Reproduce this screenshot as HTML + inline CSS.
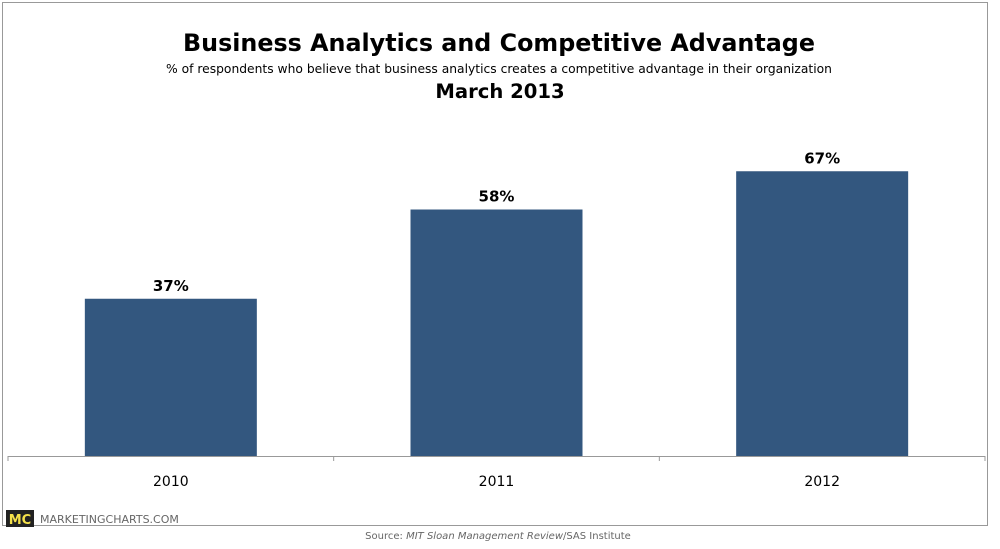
<!DOCTYPE html>
<html><head><meta charset="utf-8"><style>
body{margin:0;background:#fff;width:1000px;height:545px;overflow:hidden;font-family:"DejaVu Sans","Liberation Sans",sans-serif;}
</style></head><body>
<svg width="1000" height="545">
<rect x="2.5" y="2.5" width="985" height="523" fill="#fff" stroke="#999"/>
<text x="499" y="51" text-anchor="middle" font-size="23.8" font-weight="bold">Business Analytics and Competitive Advantage</text>
<text x="499" y="73" text-anchor="middle" font-size="12.3">% of respondents who believe that business analytics creates a competitive advantage in their organization</text>
<text x="500" y="98" text-anchor="middle" font-size="19.6" font-weight="bold">March 2013</text>
<g id="plot"></g>
<rect x="6" y="510" width="28" height="17" fill="#222"/>
<text x="20" y="524" text-anchor="middle" font-size="13" font-weight="bold" fill="#f5e14a">MC</text>
<text x="40" y="523" font-size="11" fill="#666">MARKETINGCHARTS.COM</text>
<text x="498" y="539" text-anchor="middle" font-size="10" fill="#666">Source: <tspan font-style="italic">MIT Sloan Management Review</tspan>/SAS Institute</text>
</svg>
<script>
const categories=["2010","2011","2012"];
const values=[37,58,67];
const valueLabels=["37%","58%","67%"];
const NS="http://www.w3.org/2000/svg";
const g=document.getElementById("plot");
const x0=8,x1=985,y0=456,pxPer=4.25;
const band=(x1-x0)/categories.length;
const xC=i=>x0+band*(i+0.5);
const yS=v=>y0-v*pxPer;
function mk(t,a){const e=document.createElementNS(NS,t);for(const k in a)e.setAttribute(k,a[k]);g.appendChild(e);return e;}
categories.forEach((c,i)=>{
  const r=mk("rect",{x:xC(i)-86,y:yS(values[i]),width:172,height:y0-yS(values[i]),fill:"#33577f"});
  
  
  const l=mk("text",{x:xC(i),y:yS(values[i])-8,"text-anchor":"middle","font-size":"15","font-weight":"bold"});
  l.textContent=valueLabels[i];
  
  
  const t=mk("text",{x:xC(i),y:486,"text-anchor":"middle","font-size":"14"});
  t.textContent=c;
  
  
});
const ax=mk("line",{x1:x0,x2:x1,y1:y0+0.5,y2:y0+0.5,stroke:"#999"});


for(let i=0;i<=categories.length;i++){
  const tk=mk("line",{x1:x0+band*i,x2:x0+band*i,y1:y0,y2:y0+5,stroke:"#999"});
  
  
}
</script>
</body></html>
